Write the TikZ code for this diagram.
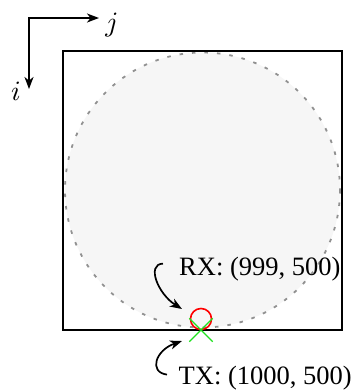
\documentclass[tikz,border=0pt]{standalone}
\usepackage{fontspec}
\setmainfont{Liberation Serif}
\usetikzlibrary{arrows.meta,shapes.misc}
\definecolor{xgreen}{RGB}{30,225,30}
\definecolor{discfill}{RGB}{246,246,246}
\definecolor{discline}{RGB}{145,145,145}
\begin{document}
\begin{tikzpicture}[x=1pt,y=-1pt,
  arr/.style={-{Stealth[length=12pt,width=9pt,inset=3.5pt]}, line width=1.7pt},
  axarr/.style={{Stealth[length=12pt,width=9pt,inset=3.5pt]}-{Stealth[length=12pt,width=9pt,inset=3.5pt]}, line width=1.7pt},
  lbl/.style={font=\fontsize{26.5}{30}\selectfont, inner sep=0pt, anchor=base west},
  axlbl/.style={scale=2.8, inner sep=0pt},
  rxmark/.style={circle, draw=red, line width=1.6pt, minimum size=21pt, inner sep=0pt},
  txmark/.style={cross out, draw=xgreen, line width=1.4pt, minimum size=22pt, inner sep=0pt}]
\useasboundingbox (0,0) rectangle (352,392);
% field of view disc
\fill[discfill] (202.5,190) circle[radius=137.5];
\draw[discline, dash pattern=on 3.5pt off 9pt, line width=1.8pt] (202.5,190) circle[radius=137.5];
% frame
\draw[line width=2pt] (63,51) rectangle (342,330);
% axes
\coordinate (o) at (29,18);
\coordinate (iend) at (29,89);
\coordinate (jend) at (99,18);
\draw[axarr] (iend) -- (o) -- (jend);
\node[axlbl] (j) at (112,24.5) {$j$};
\node[axlbl] (i) at (16,91) {$i$};
% markers
\node[rxmark] (rx) at (201,319) {};
\node[txmark] (tx) at (201,330) {};
% labels
\node[lbl] (rxl) at (179,275) {RX: (999, 500)};
\node[lbl] (txl) at (178.5,384) {TX: (1000, 500)};
% pointers
\draw[arr] ([shift={(-16,-5)}]rxl.west) .. controls (146,264) and (158,294) .. ([shift={(-19,-10)}]rx.center);
\draw[arr] ([shift={(-11.5,-3)}]txl.west) .. controls (148,372) and (156,350) .. ([shift={(-19,11)}]tx.center);
\end{tikzpicture}
\end{document}
